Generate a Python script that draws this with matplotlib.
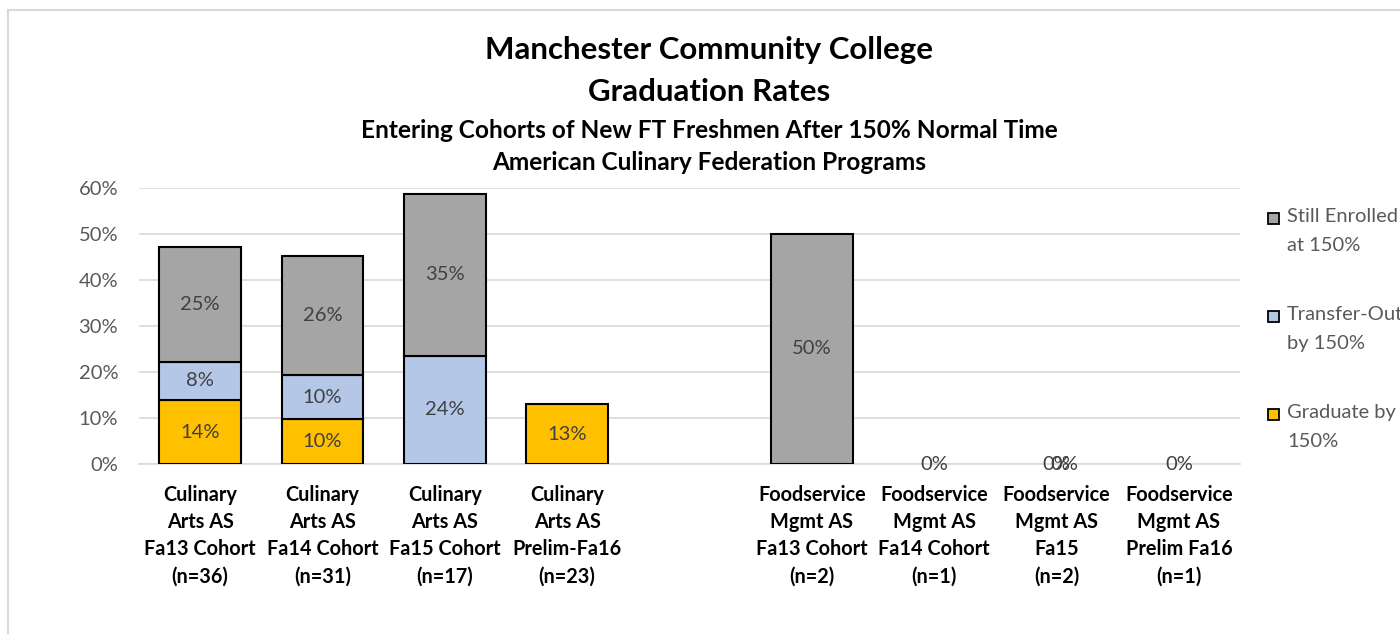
import matplotlib
matplotlib.use("Agg")
import matplotlib.pyplot as plt
from matplotlib.lines import Line2D
from matplotlib.patches import Rectangle

# ---------------- data ----------------
categories = [
    "Culinary\nArts AS\nFa13 Cohort\n(n=36)",
    "Culinary\nArts AS\nFa14 Cohort\n(n=31)",
    "Culinary\nArts AS\nFa15 Cohort\n(n=17)",
    "Culinary\nArts AS\nPrelim-Fa16\n(n=23)",
    "",
    "Foodservice\nMgmt AS\nFa13 Cohort\n(n=2)",
    "Foodservice\nMgmt AS\nFa14 Cohort\n(n=1)",
    "Foodservice\nMgmt AS\nFa15\n(n=2)",
    "Foodservice\nMgmt AS\nPrelim Fa16\n(n=1)",
]
# values in %, None = blank cell (no bar, no label)
graduate = [13.9, 9.7, None, 13.0, None, None, 0.0, 0.0, 0.0]
transfer = [8.3, 9.7, 23.5, None, None, None, None, 0.0, None]
still_enrolled = [25.0, 25.8, 35.3, None, None, 50.0, None, None, None]

series_names = ["Graduate by\n150%", "Transfer-Out\nby 150%", "Still Enrolled\nat 150%"]
series_values = [graduate, transfer, still_enrolled]
series_colors = ["#FFC000", "#B4C7E7", "#A5A5A5"]

y_ticks = [0, 10, 20, 30, 40, 50, 60]
y_tick_labels = ["0%", "10%", "20%", "30%", "40%", "50%", "60%"]

title_lines = ["Manchester Community College", "Graduation Rates"]
subtitle_lines = ["Entering Cohorts of New FT Freshmen After 150% Normal Time",
                  "American Culinary Federation Programs"]

# ---------------- drawing ----------------
FONT = "Lato"
W, H = 1400, 634
fig = plt.figure(figsize=(W / 100, H / 100), dpi=100)
fig.patch.set_facecolor("white")

ax = fig.add_axes([139 / W, 1 - 464 / H, (1240 - 139) / W, (464 - 188) / H])

x = list(range(len(categories)))
bottoms = [0.0] * len(categories)
label_count = [0] * len(categories)
for vals, color in zip(series_values, series_colors):
    for i, v in enumerate(vals):
        if v is None:
            continue
        if v > 0:
            ax.bar(i, v, bottom=bottoms[i], width=0.67, color=color,
                   edgecolor="black", linewidth=1.5, zorder=3)
        offset = 0.06 * label_count[i] if v == 0 else 0
        ax.text(i + offset, bottoms[i] + v / 2, f"{v:.0f}%",
                ha="center", va="center",
                fontsize=14.5, color="#404040", family=FONT, zorder=4)
        label_count[i] += 1
        bottoms[i] += v

ax.set_xlim(-0.5, len(categories) - 0.5)
ax.set_ylim(0, 60)
ax.set_yticks(y_ticks)
ax.set_yticklabels(y_tick_labels, family=FONT, fontsize=14.5, color="#595959")
ax.set_xticks(x)
ax.set_xticklabels(categories, family=FONT, fontsize=14.3, fontweight="bold",
                   color="black", linespacing=1.45)
ax.tick_params(axis="both", length=0)
ax.tick_params(axis="y", pad=15)
ax.tick_params(axis="x", pad=15)
ax.grid(axis="y", color="#D9D9D9", linewidth=1.2, zorder=0)
for s in ["top", "right", "left"]:
    ax.spines[s].set_visible(False)
ax.spines["bottom"].set_color("#D9D9D9")
ax.spines["bottom"].set_linewidth(1.2)
ax.set_axisbelow(True)

# titles
fig.text(709 / W, 1 - 50 / H, title_lines[0], ha="center", va="center",
         fontsize=22.5, fontweight="bold", family=FONT)
fig.text(709 / W, 1 - 92 / H, title_lines[1], ha="center", va="center",
         fontsize=22.5, fontweight="bold", family=FONT)
fig.text(709 / W, 1 - 130 / H, subtitle_lines[0], ha="center", va="center",
         fontsize=17.6, fontweight="bold", family=FONT)
fig.text(709 / W, 1 - 162 / H, subtitle_lines[1], ha="center", va="center",
         fontsize=17.6, fontweight="bold", family=FONT)

# legend (manual, first line aligned to marker)
leg_y = [218, 316, 414]
for name, color, yy in zip(reversed(series_names), reversed(series_colors), leg_y):
    fig.patches.append(Rectangle((1268 / W, 1 - (yy + 6) / H), 11 / W, 11 / H,
                                 transform=fig.transFigure, facecolor=color,
                                 edgecolor="black", linewidth=1.3))
    fig.text(1287 / W, 1 - (yy - 10) / H, name, ha="left", va="top",
             fontsize=14.5, color="#595959", family=FONT, linespacing=1.85)

# chart border (partially visible)
fig.add_artist(Line2D([8 / W, 8 / W], [0, 1 - 10 / H], transform=fig.transFigure,
                      color="#D9D9D9", linewidth=1.5))
fig.add_artist(Line2D([8 / W, 1], [1 - 10 / H, 1 - 10 / H], transform=fig.transFigure,
                      color="#D9D9D9", linewidth=1.5))

fig.savefig("out.png", dpi=100)
